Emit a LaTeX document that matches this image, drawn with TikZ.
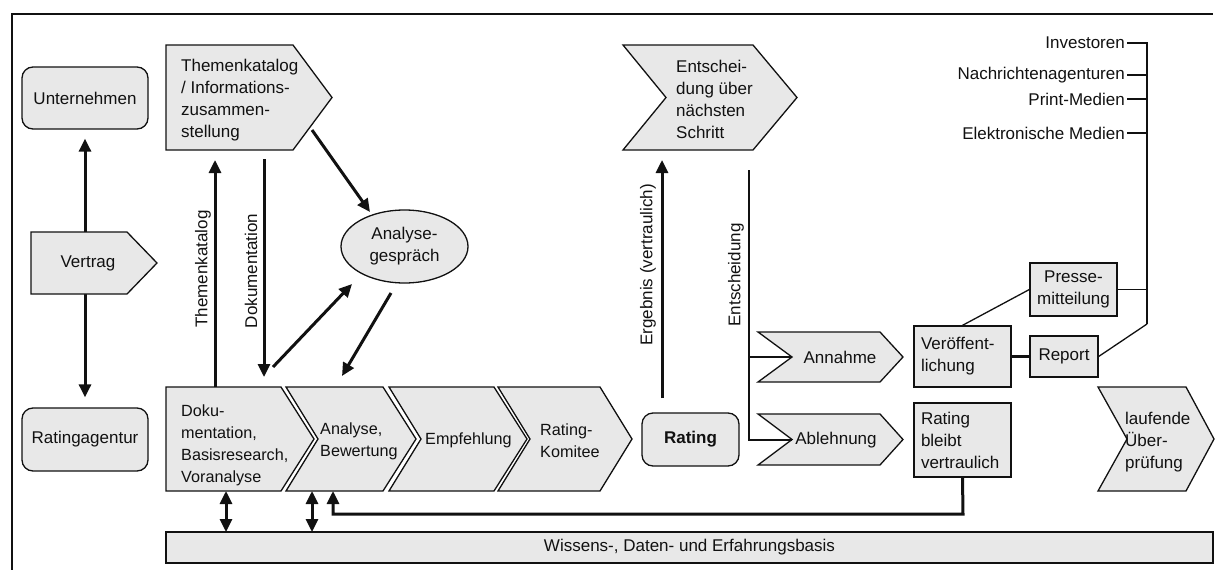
\documentclass[tikz,border=0pt]{standalone}
\usepackage{fontspec}
\setmainfont{Liberation Sans}
\usetikzlibrary{arrows.meta,shapes.geometric}
\definecolor{boxgray}{HTML}{E8E8E8}
\definecolor{ink}{HTML}{111111}

% chevron outline: #1 name, #2 left x, #3 notch depth, #4 right x, #5 tip x, #6 top y, #7 bottom y
\newcommand\chevron[7]{%
  \path[boxs] (#2,#6) -- (#4,#6) -- (#5,{(#6+#7)/2}) -- (#4,#7) -- (#2,#7)
    -- ({#2+#3},{(#6+#7)/2}) -- cycle;
  \coordinate (#1) at ({(#2+#5)/2},{(#6+#7)/2});}

\begin{document}
\begin{tikzpicture}[x=1pt,y=-1pt,
  boxs/.style={draw=ink, fill=boxgray, line width=1.3pt},
  lbl/.style={font=\fontsize{17}{22}\selectfont, text=ink, inner sep=0pt, align=left},
  slbl/.style={lbl, font=\fontsize{16.2}{22}\selectfont},
  clbl/.style={lbl, align=center},
  rbox/.style={boxs, lbl, rounded corners=11pt, align=center},
  sbox/.style={boxs, lbl},
  tipa/.tip={Triangle[length=13pt,width=12pt]},
  flow/.style={line width=3pt, draw=ink, -tipa},
  both/.style={line width=3pt, draw=ink, tipa-tipa},
  link/.style={line width=1.7pt, draw=ink},
]
\useasboundingbox (0,0) rectangle (1215,570);

% frame
\draw[line width=2.4pt, ink] (12,570) -- (12,14) -- (1213,14);

% parties
\node[rbox, minimum width=126pt, minimum height=62pt] (unt) at (85,98) {Unternehmen};
\node[rbox, minimum width=126pt, minimum height=63pt] (rag) at (85,439.5) {Ratingagentur};
\draw[both, shorten <=9pt, shorten >=10pt] (unt) -- (rag);
\chevron{vertrag}{31}{0}{127}{157}{232}{294}
\node[lbl] (vertragT) at (88,263) {Vertrag};

% topic catalogue
\chevron{thema}{166}{0}{293}{332}{45}{150}
\node[lbl, anchor=west] (themaT) at (181,100) {Themenkatalog\\/ Informations-\\zusammen-\\stellung};

% process chain
\chevron{doku}{166}{0}{281}{314}{387}{491}
\node[slbl, anchor=west] (dokuT) at (181,445) {Doku-\\mentation,\\Basisresearch,\\Voranalyse};
\chevron{analyse}{286}{32}{383}{416}{387}{491}
\node[slbl, anchor=west] (analyseT) at (320,441) {Analyse,\\Bewertung};
\chevron{empf}{389}{32}{494}{527}{387}{491}
\node[slbl, anchor=west] (empfT) at (425,440) {Empfehlung};
\chevron{komitee}{498}{32}{600}{632}{387}{491}
\node[slbl, anchor=west] (komiteeT) at (540,441) {Rating-\\Komitee};
\node[rbox, minimum width=97pt, minimum height=53pt, font=\fontsize{17}{22}\selectfont\bfseries] (rating) at (690.5,439.5) {Rating};

% analysis talk
\node[boxs, clbl, ellipse, minimum width=127pt, minimum height=73pt] (talk) at (404.5,246.5) {Analyse-\\gespräch};

% arrows between catalogue, chain and talk
\coordinate (t1s) at (215,387); \coordinate (t1e) at (215,160);
\draw[flow] (t1s) -- (t1e);
\node[lbl, rotate=90] (lblThema) at (203,269) {Themenkatalog};
\coordinate (d1s) at (264,159); \coordinate (d1e) at (264,377);
\draw[flow] (d1s) -- (d1e);
\node[lbl, rotate=90] (lblDoku) at (251,271) {Dokumentation};
\coordinate (k1s) at (312,130); \coordinate (k1e) at (370,212);
\draw[flow] (k1s) -- (k1e);
\coordinate (k2s) at (273,367); \coordinate (k2e) at (352,284);
\draw[flow] (k2s) -- (k2e);
\coordinate (k3s) at (391,293); \coordinate (k3e) at (342,376);
\draw[flow] (k3s) -- (k3e);

% decision
\chevron{decide}{623}{43}{753}{797}{45}{150}
\node[lbl, anchor=west] (decideT) at (676,99) {Entschei-\\dung über\\nächsten\\Schritt};
\coordinate (r1s) at (662,398); \coordinate (r1e) at (662,160);
\draw[flow] (r1s) -- (r1e);
\node[lbl, rotate=90] (lblErg) at (648,265) {Ergebnis (vertraulich)};

\chevron{annahme}{758}{34}{880}{903}{332}{382}
\node[lbl] (annahmeT) at (840,357) {Annahme};
\chevron{ablehn}{758}{34}{880}{903}{414}{465}
\node[lbl] (ablehnT) at (836,440) {Ablehnung};
\coordinate (e0) at (749,170); \coordinate (e1) at (749,357);
\coordinate (e2) at (749,440); \coordinate (a1) at (792,357); \coordinate (a2) at (792,440);
\draw[link] (e0) -- (e2) -- (a2);
\draw[link] (e1) -- (a1);
\node[lbl, rotate=90] (lblEnt) at (736,275) {Entscheidung};

% publication
\node[sbox, align=left, text width=83pt, minimum width=97pt, minimum height=61pt] (pub) at (962.5,356.5) {Veröffent-\\lichung};
\node[sbox, align=left, text width=83pt, minimum width=97pt, minimum height=74pt] (conf) at (962.5,440) {Rating\\bleibt\\vertraulich};
\node[sbox, minimum width=68pt, minimum height=41pt] (report) at (1064,356.5) {Report};
\node[sbox, align=center, minimum width=87pt, minimum height=53pt] (press) at (1073.5,289.5) {Presse-\\mitteilung};
\draw[line width=2.4pt, ink] (pub.east) -- (report.west);
\draw[link, line width=1.3pt] (pub.north) -- (press.west);

% audiences
\node[lbl, anchor=east] (inv) at (1125,43) {Investoren};
\node[lbl, anchor=east] (news) at (1125,75) {Nachrichtenagenturen};
\node[lbl, anchor=east] (print) at (1125,99) {Print-Medien};
\node[lbl, anchor=east] (elec) at (1125,133) {Elektronische Medien};
\coordinate (bTop) at (1147,43); \coordinate (bBot) at (1147,324);
\draw[link] ([xshift=2pt]inv.east) -- (bTop) -- (bBot);
\draw[link] ([xshift=2pt]news.east) -- (news.east -| bTop);
\draw[link] ([xshift=2pt]print.east) -- (print.east -| bTop);
\draw[link] ([xshift=2pt]elec.east) -- (elec.east -| bTop);
\draw[link] (press.east) -- (press.east -| bTop);
\draw[link, line width=1.3pt] (report.east) -- (bBot);

% monitoring
\chevron{monitor}{1098}{29}{1186}{1214}{387}{491}
\node[lbl, anchor=west] (monitorT) at (1125,442) {laufende\\Über-\\prüfung};

% knowledge base
\node[sbox, minimum width=1047pt, minimum height=31pt] (base) at (689.5,547.5) {Wissens-, Daten- und Erfahrungsbasis};
\coordinate (b1a) at (226,491); \coordinate (b1b) at (226,532);
\draw[both] (b1a) -- (b1b);
\coordinate (b2a) at (312,491); \coordinate (b2b) at (312,532);
\draw[both] (b2a) -- (b2b);
\coordinate (f1) at (963,514); \coordinate (f2) at (333,514); \coordinate (f3) at (333,491);
\draw[flow] (conf.south) -- (f1) -- (f2) -- (f3);
\end{tikzpicture}
\end{document}
